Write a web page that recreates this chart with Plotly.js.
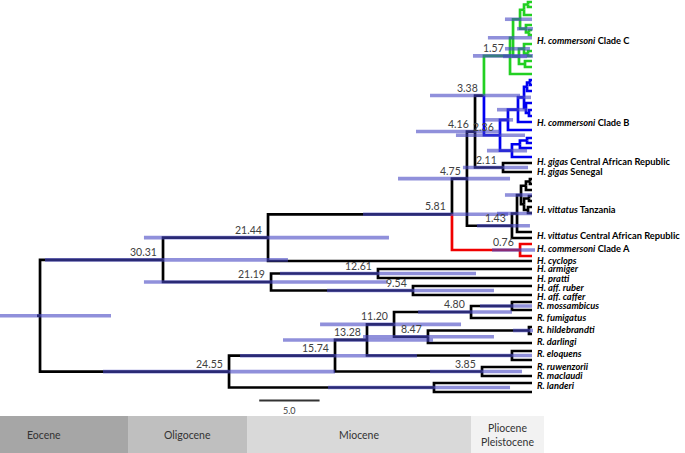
<!DOCTYPE html>
<html><head><meta charset="utf-8">
<script src="https://cdn.plot.ly/plotly-3.0.1.min.js"></script>
<style>html,body{margin:0;padding:0;background:#fff}</style>
</head><body><div id="chart" style="width:685px;height:453px"></div>
<script>
// ================= DATA =================
// Internal nodes (ages in Ma, HPD interval in Ma)
const nodeId     = ['root','n3031','n2144','n581','n475','n416','n338','n157','b236','n211','n143','n076','n2119','n1261','n954','n2455','n1574','n1328','n1120','n480','nMoss','n847','nHild','nEloq','n385','nLand',
  'cC2','cA','cA1','cA1a','cA2','cA2a','cB','cB1','cB1a','cB2',
  'bU','bU1','bQ','bQ1','bQ1a','bQ2','bQ2a','bL','bL1','bL1a',
  'T0','T1','T2','T2a','T3','T3a','T3b'];
const nodeParent = [null,'root','n3031','n2144','n581','n475','n416','n338','n338','n416','n475','n581','n3031','n2119','n2119','root','n2455','n1574','n1328','n1120','n480','n1120','n847','n1328','n1574','n2455',
  'n157','cC2','cA','cA1','cA','cA2','cC2','cB','cB1','cB',
  'b236','bU','bU1','bQ','bQ1','bQ','bQ2','b236','bL','bL1',
  'n143','T0','T1','T2','T1','T3','T3'];
const nodeAge    = [40.76,30.57,21.87,6.63,5.39,4.72,3.98,1.82,2.65,2.40,1.66,0.99,21.62,12.76,9.86,25.10,16.32,13.67,11.43,5.05,1.66,8.62,0.25,1.66,4.14,8.12,
  1.57,0.99,0.66,0.33,0.50,0.25,1.08,0.66,0.33,0.58,
  1.99,1.16,0.66,0.41,0.17,0.50,0.25,1.66,1.00,0.41,
  1.24,0.91,0.50,0.17,0.66,0.25,0.33];
const nodeClade  = ['k','k','k','k','k','k','k','C','B','k','k','A','k','k','k','k','k','k','k','k','k','k','k','k','k','k',
  'C','C','C','C','C','C','C','C','C','C',
  'B','B','B','B','B','B','B','B','B','B',
  'k','k','k','k','k','k','k'];
const hpdLow     = [44.08,40.35,32.15,14.00,11.10,9.61,8.45,4.89,6.30,5.72,4.56,3.31,32.15,20.88,16.98,35.54,24.19,20.63,17.56,9.44,4.31,14.00,1.57,5.14,8.45,16.90,
  3.65,2.24,null,null,1.24,null,2.40,2.24,null,null,
  3.89,2.90,1.24,null,null,null,null,3.73,null,null,
  2.90,2.24,null,null,null,null,null];
const hpdHigh    = [34.88,20.22,11.85,1.99,1.82,2.65,0.99,-0.08,0.58,0.33,0.17,-0.25,12.01,4.64,3.15,16.32,9.53,8.20,5.88,1.66,0.00,3.15,-0.08,0.00,0.83,1.82,
  0.00,0.00,null,null,-0.08,null,0.41,0.17,null,null,
  1.57,0.41,0.08,null,null,null,null,0.41,null,null,
  0.00,0.00,null,null,null,null,null];
const nodeLabel  = ['','30.31','21.44','5.81','4.75','4.16','3.38','1.57','2.36','2.11','1.43','0.76','21.19','12.61','9.54','24.55','15.74','13.28','11.20','4.80','','8.47','','','3.85','',
  '','','','','','','','','','',
  '','','','','','','','','','',
  '','','','','','',''];

// Tips (age 0): parent node and vertical row
const tipParent = ['cA1a','cA1a','cA1','cA2','cA2a','cA2a','cB1','cB1a','cB1a','cB2','cB2','n157',
  'bQ1a','bQ1a','bQ1','bQ2','bQ2a','bQ2a','bU1','bU','bL1a','bL1a','bL1','bL',
  'n211','n211',
  'T2a','T2a','T2','T3a','T3a','T3b','T3b','T0','n143',
  'n076','n076',
  'n2144','n1261','n1261','n954','n954','nMoss','nMoss','n480','nHild','nHild','n847','nEloq','nEloq','n385','n385','nLand','nLand'];
const tipRow    = [2,7,15,25,30,35,44,51,56,61,67,74,
  80,85,91,103,110,116,122,130,138,143,148,157,
  163,172,
  179,184,190,196,201,207,213,232,238,
  244,256,
  261,269,278,286,295,302,310,318,327,334,343,351,360,367,376,383,392];

// Tip / clade labels
const labelItalic = ['H. commersoni','H. commersoni','H. gigas','H. gigas','H. vittatus','H. vittatus','H. commersoni','H. cyclops','H. armiger','H. pratti','H. aff. ruber','H. aff. caffer','R. mossambicus','R. fumigatus','R. hildebrandti','R. darlingi','R. eloquens','R. ruwenzorii','R. maclaudi','R. landeri'];
const labelPlain  = ['Clade C','Clade B','Central African Republic','Senegal','Tanzania','Central African Republic','Clade A','','','','','','','','','','','','',''];
const labelRow    = [40,122,161,171,209,235,248,260,268,278,287,296,305,317,329,341,353,366,375,385];

// Epochs (Ma boundaries as drawn)
const epochNames = ['Eocene','Oligocene','Miocene','Pliocene<br>Pleistocene'];
const epochStart = [47.4,33.47,23.61,5.05];
const epochEnd   = [33.47,23.61,5.05,-0.99];

// Scale bar
const scaleStart = 22.6;
const scaleLength = 5.0;

// ================= STYLE =================
const cladeColor = {k:'#000000', C:'#22d022', B:'#0000f0', A:'#f00000'};
const epochColor = ['#a6a6a6','#bfbfbf','#d9d9d9','#f2f2f2'];
const barColor = 'rgba(70,70,195,0.6)';
const lineW = 2.7, barW = 3.6;
const FONT = 'Lato, "Open Sans", sans-serif';

// ================= BUILD =================
const info = {};
nodeId.forEach((id,i)=>{info[id]={age:nodeAge[i],parent:nodeParent[i],clade:nodeClade[i],children:[]};});
tipParent.forEach((p,i)=>{info['tip'+i]={age:0,parent:p,clade:null,children:[],y:tipRow[i]};});
Object.keys(info).forEach(id=>{const p=info[id].parent; if(p) info[p].children.push(id);});
Object.keys(info).forEach(id=>{const n=info[id]; if(n.clade===null) n.clade=info[n.parent].clade;});
function getY(id){const n=info[id]; if(n.y!==undefined) return n.y;
  const ys=n.children.map(getY); n.y=(Math.min(...ys)+Math.max(...ys))/2; return n.y;}
getY('root');

const segs = {k:{x:[],y:[]},C:{x:[],y:[]},B:{x:[],y:[]},A:{x:[],y:[]}};
Object.keys(info).forEach(id=>{const n=info[id]; if(!n.parent) return; const p=info[n.parent];
  const s=segs[n.clade]; s.x.push(p.age,p.age,n.age,null); s.y.push(p.y,n.y,n.y,null);});
segs.k.x.push(info.root.age+0.25, info.root.age, null); segs.k.y.push(info.root.y, info.root.y, null);

const traces = [];
['k','A','B','C'].forEach(c=>{traces.push({type:'scatter',mode:'lines',x:segs[c].x,y:segs[c].y,
  line:{color:cladeColor[c],width:lineW},hoverinfo:'skip'});});
const bx=[],by=[];
nodeId.forEach((id,i)=>{ if(hpdLow[i]===null) return; bx.push(hpdLow[i],hpdHigh[i],null); by.push(info[id].y,info[id].y,null);});
traces.push({type:'scatter',mode:'lines',x:bx,y:by,line:{color:barColor,width:barW},hoverinfo:'skip'});

const ann = [];
nodeId.forEach((id,i)=>{ if(!nodeLabel[i]) return;
  ann.push({x:info[id].age,y:info[id].y,xref:'x',yref:'y',text:nodeLabel[i],showarrow:false,
    xanchor:'right',yanchor:'bottom',xshift:-4,yshift:0,font:{family:FONT,size:10.5,color:'#404040'}});});
labelItalic.forEach((t,i)=>{
  const txt='<b><i>'+t+'</i>'+(labelPlain[i]?' '+labelPlain[i]:'')+'</b>';
  ann.push({x:0,y:labelRow[i],xref:'x',yref:'y',text:txt,showarrow:false,xanchor:'left',yanchor:'middle',
    xshift:3,font:{family:FONT,size:9.3,color:'#000'}});});
const shapes = [];
epochNames.forEach((e,i)=>{
  shapes.push({type:'rect',xref:'x',yref:'y',x0:epochStart[i],x1:epochEnd[i],y0:416,y1:453,fillcolor:epochColor[i],line:{width:0},layer:'below'});
  ann.push({x:(epochStart[i]+epochEnd[i])/2,y:434.5,xref:'x',yref:'y',text:e,showarrow:false,xanchor:'center',yanchor:'middle',
    font:{family:FONT,size:10.5,color:'#333'}});});
shapes.push({type:'line',xref:'x',yref:'y',x0:scaleStart,x1:scaleStart-scaleLength,y0:400.5,y1:400.5,line:{color:'#333',width:2}});
ann.push({x:scaleStart-scaleLength/2,y:410.5,xref:'x',yref:'y',text:'5.0',showarrow:false,xanchor:'center',yanchor:'middle',
  font:{family:FONT,size:9,color:'#404040'}});

const layout = {width:685,height:453,margin:{l:0,r:0,t:0,b:0},showlegend:false,
  paper_bgcolor:'#fff',plot_bgcolor:'#fff',
  xaxis:{range:[532/12.07,-(685-532)/12.07],visible:false,fixedrange:true},
  yaxis:{range:[453,0],visible:false,fixedrange:true},
  annotations:ann,shapes:shapes};
Plotly.newPlot('chart',traces,layout,{staticPlot:true,displayModeBar:false});
</script></body></html>
